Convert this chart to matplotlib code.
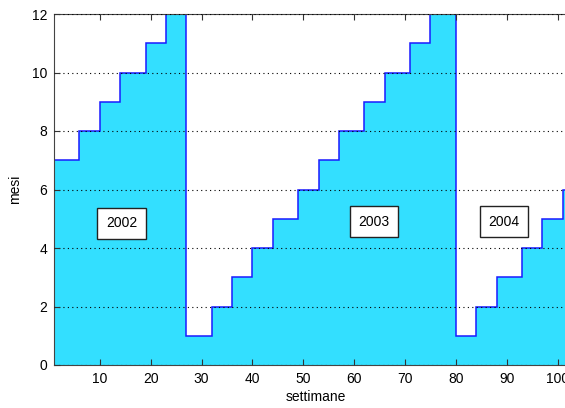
import numpy as np
import matplotlib
matplotlib.use('Agg')
import matplotlib.pyplot as plt

# week at which each month value starts (last edge = end of data)
week_edges = [1, 6, 10, 14, 19, 23, 27, 32, 36, 40, 44, 49, 53, 57, 62,
              66, 71, 75, 80, 84, 88, 93, 97, 101, 104]
mesi = [7, 8, 9, 10, 11, 12, 1, 2, 3, 4, 5, 6, 7, 8, 9, 10, 11, 12,
        1, 2, 3, 4, 5, 6]
anni = ['2002', '2003', '2004']
anni_x = [14.3, 63.9, 89.4]
anni_y = [4.85, 4.9, 4.9]

plt.rcParams['font.family'] = ['Liberation Sans', 'DejaVu Sans']

fig = plt.figure(figsize=(5.65, 4.08), dpi=100)
# axes extends past the right border, as in the reference (clipped)
ax = fig.add_axes([54/565, 43/408, 524/565, 351/408])

ax.stairs(mesi, week_edges, fill=True, color='#33dfff', baseline=0)
ax.stairs(mesi, week_edges, color='#1a1aff', linewidth=1.1, baseline=None)

for t, x, y in zip(anni, anni_x, anni_y):
    ax.text(x, y, t, ha='center', va='center', fontsize=10, zorder=5,
            bbox=dict(boxstyle='square,pad=0.62', fc='white', ec='#222222', lw=1.0))

ax.set_xlim(1, 104)
ax.set_ylim(0, 12)
ax.set_xticks(np.arange(10, 101, 10))
ax.set_yticks(np.arange(0, 13, 2))
ax.yaxis.grid(True, linestyle=(0, (1, 3)), color='black', linewidth=0.8)
ax.set_axisbelow(False)
ax.tick_params(direction='in', top=True, right=False, labelsize=10, length=4,
               color='#333333', pad=5)
for s in ax.spines.values():
    s.set_color('#444444')
ax.spines['right'].set_visible(False)

ax.set_xlabel('settimane', fontsize=10, labelpad=3)
ax.set_ylabel('mesi', fontsize=10, labelpad=7)

fig.savefig('out.png', dpi=100)
